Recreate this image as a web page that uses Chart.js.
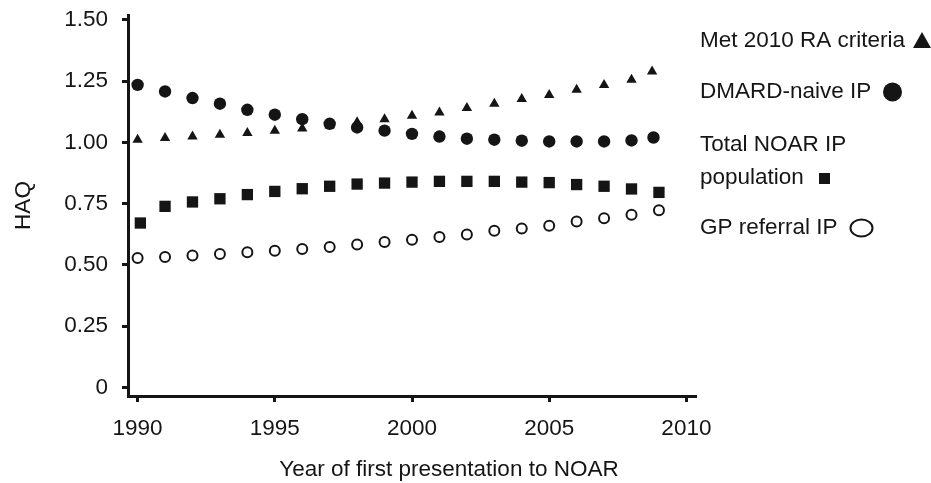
<!DOCTYPE html>
<html>
<head>
<meta charset="utf-8">
<script src="https://cdn.jsdelivr.net/npm/chart.js@4.4.0/dist/chart.umd.min.js"></script>
<style>
  html, body { margin:0; padding:0; background:#fff; }
  #wrap { width:931px; height:483px; position:relative; }
</style>
</head>
<body>
<div id="wrap"><canvas id="haq_chart" width="931" height="483"></canvas></div>
<script>
// values
const raYears    = [1990,1991,1992,1993,1994,1995,1996,1997,1998,1999,2000,2001,2002,2003,2004,2005,2006,2007,2008,2008.75];
const raHaq      = [1.011,1.018,1.024,1.031,1.038,1.048,1.057,1.070,1.082,1.095,1.109,1.122,1.140,1.158,1.177,1.193,1.215,1.234,1.256,1.289];
const dmardYears = [1990,1991,1992,1993,1994,1995,1996,1997,1998,1999,2000,2001,2002,2003,2004,2005,2006,2007,2008,2008.8];
const dmardHaq   = [1.235,1.208,1.181,1.158,1.133,1.113,1.095,1.076,1.061,1.048,1.035,1.024,1.015,1.011,1.007,1.004,1.004,1.004,1.008,1.020];
const totalYears = [1990.1,1991,1992,1993,1994,1995,1996,1997,1998,1999,2000,2001,2002,2003,2004,2005,2006,2007,2008,2009];
const totalHaq   = [0.671,0.739,0.757,0.770,0.787,0.800,0.811,0.821,0.830,0.834,0.838,0.841,0.841,0.841,0.838,0.836,0.828,0.821,0.810,0.796];
const gpYears    = [1990,1991,1992,1993,1994,1995,1996,1997,1998,1999,2000,2001,2002,2003,2004,2005,2006,2007,2008,2009];
const gpHaq      = [0.528,0.532,0.538,0.545,0.552,0.558,0.565,0.573,0.583,0.594,0.603,0.614,0.624,0.639,0.649,0.660,0.677,0.690,0.705,0.723];

const xTicks = [1990,1995,2000,2005,2010];
const yTicks = [0,0.25,0.5,0.75,1,1.25,1.5];
const seriesNames = ["Met 2010 RA criteria", "DMARD-naive IP", "Total NOAR IP population", "GP referral IP"];
const xTitle = "Year of first presentation to NOAR";

const ink = "#151515";
const fontFam = "'Liberation Sans', Arial, sans-serif";
const fontPx = 22.5;

function toPoints(xs, ys){
    let arr = new Array();
    for(let i=0; i<xs.length; i++){
        arr.push({x:xs[i], y:ys[i]});
    }
    return arr;
}

// legend on the right (text first, then the marker) and the x title,
// which sits right of the plot centre in the original
const sideLegend = {
    id:"sideLegend",
    afterDraw:function(chart){
        let ctx = chart.ctx;
        ctx.save();
        ctx.fillStyle = ink;
        ctx.strokeStyle = ink;
        ctx.font = fontPx + "px " + fontFam;
        ctx.textBaseline = "middle";
        ctx.textAlign = "left";
        let x0 = 700;
        ctx.fillText(seriesNames[0], x0, 41);
        ctx.fillText(seriesNames[1], x0, 92);
        ctx.fillText("Total NOAR IP", x0, 145);
        ctx.fillText("population", x0, 178);
        ctx.fillText(seriesNames[3], x0, 228);

        ctx.textAlign = "center";
        ctx.fillText(xTitle, 449, 470);

        // triangle
        ctx.beginPath();
        ctx.moveTo(922, 32);
        ctx.lineTo(931, 48);
        ctx.lineTo(913, 48);
        ctx.closePath();
        ctx.fill();
        // filled circle
        ctx.beginPath();
        ctx.arc(892.5, 92, 9.5, 0, Math.PI*2);
        ctx.fill();
        // square
        ctx.fillRect(819, 173, 11, 11);
        // open circle
        ctx.lineWidth = 2;
        ctx.beginPath();
        ctx.ellipse(861.5, 228, 11, 8.5, 0, 0, Math.PI*2);
        ctx.stroke();
        ctx.restore();
    }
};

let haqChart = new Chart(document.getElementById("haq_chart"), {
    type:"scatter",
    plugins:[sideLegend],
    data:{
        datasets:[
            {
                label:seriesNames[0],
                data:toPoints(raYears, raHaq),
                pointStyle:"triangle",
                pointRadius:6,
                backgroundColor:ink,
                borderColor:ink,
                borderWidth:0
            },
            {
                label:seriesNames[1],
                data:toPoints(dmardYears, dmardHaq),
                pointStyle:"circle",
                pointRadius:6.2,
                backgroundColor:ink,
                borderColor:ink,
                borderWidth:0
            },
            {
                label:seriesNames[2],
                data:toPoints(totalYears, totalHaq),
                pointStyle:"rect",
                pointRadius:8,
                backgroundColor:ink,
                borderColor:ink,
                borderWidth:0
            },
            {
                label:seriesNames[3],
                data:toPoints(gpYears, gpHaq),
                pointStyle:"circle",
                pointRadius:5,
                backgroundColor:"#fff",
                borderColor:ink,
                borderWidth:2
            }
        ]
    },
    options:{
        responsive:false,
        animation:false,
        layout:{
            padding:{left:0, top:15, right:235, bottom:0}
        },
        plugins:{
            legend:{display:false},
            tooltip:{enabled:false}
        },
        scales:{
            x:{
                type:"linear",
                min:1989.65,
                max:2010.35,
                afterBuildTicks:function(scale){
                    scale.ticks = xTicks.map(function(v){ return {value:v}; });
                },
                afterFit:function(scale){
                    scale.height = 87;
                    scale.paddingLeft = 0;
                    scale.paddingRight = 0;
                },
                ticks:{
                    color:ink,
                    padding:13,
                    maxRotation:0,
                    font:{family:fontFam, size:fontPx},
                    callback:function(v){ return String(v); }
                },
                grid:{
                    display:true,
                    drawOnChartArea:false,
                    drawTicks:true,
                    tickLength:6,
                    tickWidth:3,
                    color:ink
                },
                border:{display:true, color:ink, width:3}
            },
            y:{
                type:"linear",
                min:-0.035,
                max:1.52,
                afterBuildTicks:function(scale){
                    scale.ticks = yTicks.map(function(v){ return {value:v}; });
                },
                afterFit:function(scale){
                    scale.width = 128;
                    scale.paddingTop = 0;
                    scale.paddingBottom = 0;
                },
                ticks:{
                    color:ink,
                    padding:14,
                    font:{family:fontFam, size:fontPx},
                    callback:function(v){ return v === 0 ? "0" : v.toFixed(2); }
                },
                grid:{
                    display:true,
                    drawOnChartArea:false,
                    drawTicks:true,
                    tickLength:6,
                    tickWidth:3,
                    color:ink
                },
                border:{display:true, color:ink, width:3},
                title:{
                    display:true,
                    text:"HAQ",
                    color:ink,
                    padding:{top:10, bottom:0},
                    font:{family:fontFam, size:fontPx, lineHeight:1.2}
                }
            }
        }
    }
});
</script>
</body>
</html>
